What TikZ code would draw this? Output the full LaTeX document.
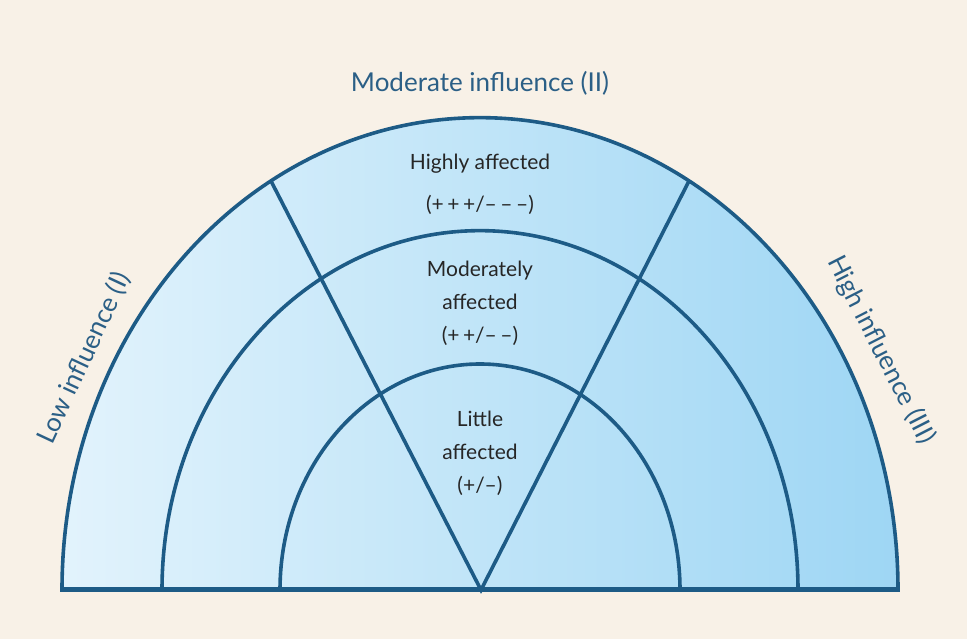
\documentclass[tikz,border=0pt]{standalone}
\usepackage{fontspec}
\setmainfont{Lato}
\usetikzlibrary{positioning}
\definecolor{paper}{HTML}{F8F1E7}
\definecolor{rim}{HTML}{1D5B86}
\definecolor{lbl}{HTML}{2B5F86}
\definecolor{skyL}{HTML}{E2F3FC}
\definecolor{skyM}{HTML}{CFEAF9}
\definecolor{skyR}{HTML}{9ED6F4}
\newcommand{\halfring}[1]{%
  (480-#1,49) arc[start angle=180,end angle=0,x radius=#1pt,y radius=1.13*#1pt]}
\newcommand{\mn}{\textendash}

\begin{document}
\begin{tikzpicture}[x=1pt,y=1pt,
  ring/.style={draw=rim,line width=3.6pt},
  zone/.style={font=\fontsize{21}{33}\selectfont,align=center,text=black!85},
  side/.style={font=\fontsize{26}{28}\selectfont,text=lbl}]
  \fill[paper] (0,0) rectangle (967,639);
  \useasboundingbox (0,0) rectangle (967,639);
  \shade[left color=skyL,middle color=skyM,right color=skyR] \halfring{418} -- cycle;
  \coordinate (hub) at (481,49);
  \coordinate (tl) at (271,458);
  \coordinate (tr) at (689,458);
  \coordinate (bl) at (60,49);
  \coordinate (br) at (900,49);
  \draw[ring] \halfring{200};
  \draw[ring] \halfring{318};
  \draw[ring] \halfring{418};
  \draw[ring] (tl) -- (hub) -- (tr);
  \draw[draw=rim,line width=5pt] (bl) -- (br);
  \node[zone,font=\fontsize{21}{42}\selectfont] (high) at (480,455)
    {Highly affected\\(+\,+\,+/\mn\,\mn\,\mn)};
  \node[zone] (mid) at (480,336)
    {Moderately\\affected\\(+\,+/\mn\,\mn)};
  \node[zone] (low) at (480,186)
    {Little\\affected\\(+/\mn)};
  \node[side] (inf2) at (480,556) {Moderate influence (II)};
  \node[side,rotate=65] (inf1) at (84,281) {Low influence (I)};
  \node[side,rotate=-63] (inf3) at (881,289) {High influence (III)};
\end{tikzpicture}
\end{document}
